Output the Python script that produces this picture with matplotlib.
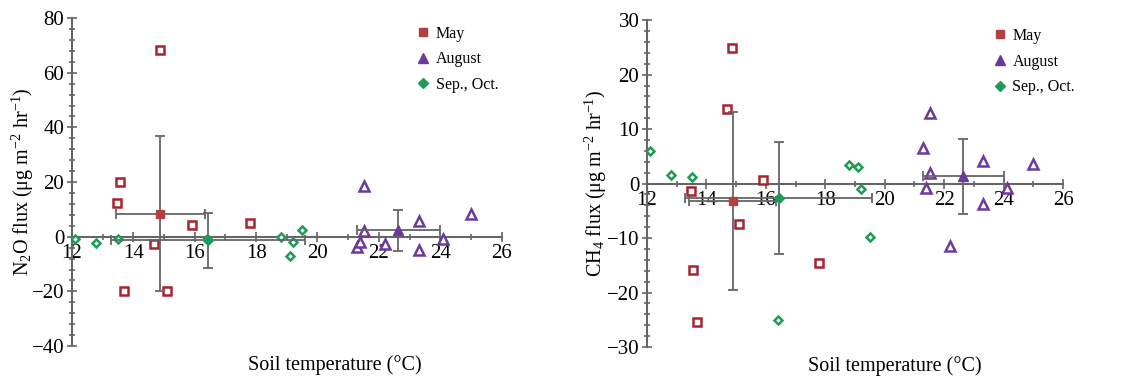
import matplotlib
matplotlib.use("Agg")
import matplotlib.pyplot as plt
from matplotlib.ticker import MultipleLocator

plt.rcParams['font.family'] = ['Liberation Serif', 'DejaVu Serif']
plt.rcParams['mathtext.fontset'] = 'custom'
plt.rcParams['mathtext.rm'] = 'Liberation Serif'
plt.rcParams['mathtext.it'] = 'Liberation Serif:italic'

# soil temperature of each sample, by campaign
may_temp = [13.48, 13.56, 13.70, 14.68, 14.87, 15.09, 15.90, 17.79]
aug_temp = [21.30, 21.40, 21.52, 21.52, 22.20, 23.30, 23.30, 24.10, 25.00]
sep_temp = [12.11, 12.80, 13.51, 16.40, 18.81, 19.11, 19.20, 19.50]

# N2O flux
may_n2o = [12.2, 20.1, -19.7, -2.7, 68.3, -19.7, 4.3, 5.2]
aug_n2o = [-3.9, -1.8, 18.6, 2.2, -2.7, 5.8, -4.7, -1.0, 8.5]
sep_n2o = [-0.85, -2.3, -0.85, -1.0, -0.2, -6.9, -2.1, 2.4]

# CH4 flux
may_ch4 = [-1.35, -15.9, -25.5, 13.6, 24.8, -7.35, 0.6, -14.5]
aug_ch4 = [6.6, -0.9, 13.0, 1.96, -11.5, 4.1, -3.8, -0.9, 3.5]
sep_ch4 = [6.0, 1.5, 1.2, -25.1, 3.4, 3.1, -1.0, -9.8]

# campaign means and error bars (May, August, Sep./Oct.)
mean_temp = [14.88, 22.64, 16.43]
temp_err = [1.45, 1.36, 3.15]
mean_n2o = [8.5, 2.3, -1.3]
n2o_err = [28.2, 7.4, 10.0]
mean_ch4 = [-3.2, 1.3, -2.6]
ch4_err = [16.3, 6.9, 10.25]

labels = ['May', 'August', 'Sep., Oct.']
edge_cols = ['#a8232e', '#6b3a9c', '#1c9d55']
fill_cols = ['#b0413e', '#6b3a9c', '#1c9d55']
markers = ['s', '^', 'D']
msizes = [5.5, 6.5, 4.5]
axis_col = '#666666'

fig = plt.figure(figsize=(11.24, 3.77), dpi=100)
ax1 = fig.add_axes([0.064, 0.082, 0.385, 0.870])
ax2 = fig.add_axes([0.5756, 0.0796, 0.3728, 0.867])


def panel(ax, series, means, errs, ylim, ymaj, ymin, ylabel,
          label_x, ylab_x, leg_x):
    for i, (t, v) in enumerate(series):
        ax.plot(t, v, linestyle='none', marker=markers[i], ms=msizes[i],
                mfc='white', mec=edge_cols[i], mew=1.8, zorder=3)
    for i in range(3):
        ax.errorbar(mean_temp[i], means[i], xerr=temp_err[i], yerr=errs[i],
                    fmt='none', ecolor='#666666', elinewidth=1.3,
                    capsize=3.5, capthick=1.3, zorder=4)
        ax.plot(mean_temp[i], means[i], linestyle='none', marker=markers[i],
                ms=msizes[i] + 0.5, color=fill_cols[i], zorder=5,
                label=labels[i])

    ax.set_xlim(12, 26.1)
    ax.set_ylim(*ylim)
    ax.spines['top'].set_visible(False)
    ax.spines['right'].set_visible(False)
    ax.spines['bottom'].set_position(('data', 0))
    ax.spines['left'].set_bounds(ylim[0], ylim[1])
    ax.spines['bottom'].set_bounds(12, 26)
    for s in ('left', 'bottom'):
        ax.spines[s].set_color(axis_col)
        ax.spines[s].set_linewidth(1.5)

    ax.xaxis.set_major_locator(MultipleLocator(2))
    ax.xaxis.set_minor_locator(MultipleLocator(1))
    ax.yaxis.set_major_locator(MultipleLocator(ymaj))
    ax.yaxis.set_minor_locator(MultipleLocator(ymin))
    ax.tick_params(which='both', direction='inout', color=axis_col,
                   labelsize=15, width=1.2)
    ax.tick_params(which='major', length=7)
    ax.tick_params(which='minor', length=4)
    ax.tick_params(axis='x', pad=2)
    ax.tick_params(axis='y', pad=2)

    ax.set_xlabel('Soil temperature (°C)', fontsize=14.5)
    ax.xaxis.set_label_coords(label_x, -0.028)
    ax.set_ylabel(ylabel, fontsize=14.5)
    ax.yaxis.set_label_coords(ylab_x, 0.5)

    leg = ax.legend(loc='upper left', bbox_to_anchor=(leg_x, 1.02),
                    frameon=False, fontsize=11.5, handlelength=0.8,
                    handletextpad=0.4, labelspacing=0.6, markerscale=1.0)
    return leg


panel(ax1, [(may_temp, may_n2o), (aug_temp, aug_n2o), (sep_temp, sep_n2o)],
      mean_n2o, n2o_err, (-40, 80), 20, 4,
      'N$_2$O flux (μg m$^{-2}$ hr$^{-1}$)', 0.607, -0.083, 0.763)
panel(ax2, [(may_temp, may_ch4), (aug_temp, aug_ch4), (sep_temp, sep_ch4)],
      mean_ch4, ch4_err, (-30, 30), 10, 2,
      'CH$_4$ flux (μg m$^{-2}$ hr$^{-1}$)', 0.592, -0.09, 0.792)

fig.savefig('out.png', dpi=100)
